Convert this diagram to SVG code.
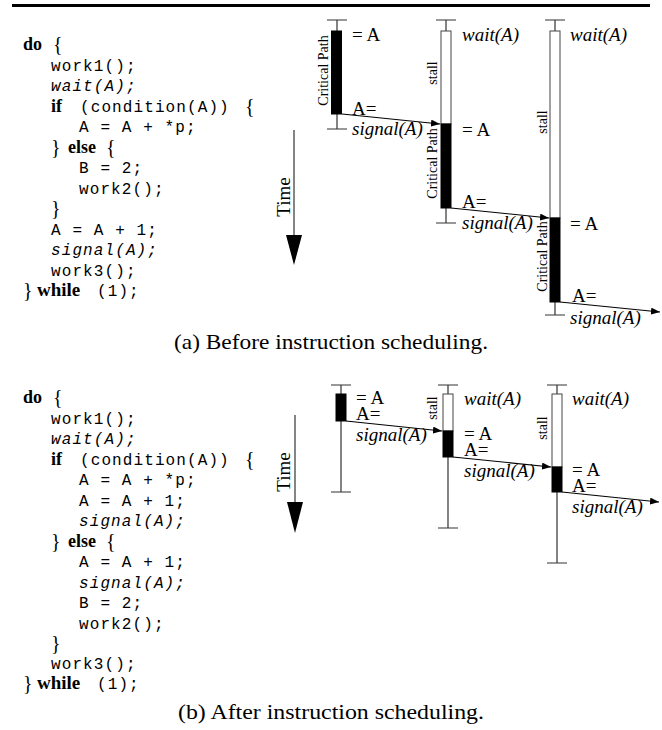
<svg xmlns="http://www.w3.org/2000/svg" width="662" height="730" viewBox="0 0 662 730">
<defs>
<style>
.mono{font-family:"Liberation Mono",monospace;font-size:16px;letter-spacing:1.1px;fill:#000}
.it{font-style:italic}
.kw{font-family:"Liberation Serif",serif;font-weight:bold;font-size:18px}
.kw2{font-family:"Liberation Serif",serif;font-weight:bold;font-size:19px}
.br{font-family:"Liberation Serif",serif;font-size:20px}
.lbl{font-family:"Liberation Serif",serif;font-size:19px}
.rot{font-family:"Liberation Serif",serif;font-size:14px;text-anchor:middle}
.time{font-family:"Liberation Serif",serif;font-size:19px;text-anchor:middle}
.cap{font-family:"Liberation Serif",serif;font-size:21px;text-anchor:middle}
.wh{stroke:#333;stroke-width:1.2;fill:none}
.barW{fill:#fff;stroke:#444;stroke-width:1}
.barB{fill:#000;stroke:#000;stroke-width:1}
.conn{stroke:#000;stroke-width:1.1;fill:none;marker-end:url(#ah)}
</style>
<marker id="ah" markerUnits="userSpaceOnUse" markerWidth="9" markerHeight="7" refX="9" refY="3.5" orient="auto">
<path d="M0,0 L9,3.5 L0,7 z" fill="#000"/>
</marker>
</defs>
<rect width="662" height="730" fill="#fff"/>
<line x1="12" y1="5.5" x2="650" y2="5.5" stroke="#000" stroke-width="3"/>

<!-- Code (a) -->
<g id="code-a">
<text class="kw" x="23" y="50">do</text><text class="br" x="53" y="51">{</text>
<text class="mono" x="51" y="71">work1();</text>
<text class="mono it" x="51" y="91">wait(A);</text>
<text class="kw" x="51" y="112">if</text><text class="mono" x="80" y="112">(condition(A))</text><text class="br" x="245" y="113">{</text>
<text class="mono" x="79" y="132">A = A + *p;</text>
<text class="br" x="51" y="154">}</text><text class="kw" x="68" y="153">else</text><text class="br" x="106" y="154">{</text>
<text class="mono" x="79" y="173">B = 2;</text>
<text class="mono" x="79" y="194">work2();</text>
<text class="br" x="51" y="215">}</text>
<text class="mono" x="51" y="235">A = A + 1;</text>
<text class="mono it" x="51" y="255">signal(A);</text>
<text class="mono" x="51" y="276">work3();</text>
<text class="br" x="23" y="297">}</text><text class="kw2" x="37" y="296">while</text><text class="mono" x="97" y="296">(1);</text>
</g>

<!-- Time arrow (a) -->
<g id="time-a">
<line x1="294" y1="130" x2="294" y2="240" class="wh"/>
<path d="M286,235 L302,235 L294,265 z" fill="#000"/>
<text class="time" transform="translate(290,197) rotate(-90)">Time</text>
</g>

<!-- Diagram (a) -->
<g id="a-thread1">
<path class="wh" d="M327,20 H347 M337,20 V129 M327,129 H347"/>
<rect class="barB" x="331.5" y="31" width="10" height="83"/>
<text class="rot" transform="translate(328,70.5) rotate(-90)">Critical Path</text>
<text class="lbl" x="352" y="41">= A</text>
<text class="lbl" x="352" y="115">A=</text>
<text class="lbl it" x="352" y="135">signal(A)</text>
</g>
<g id="a-thread2">
<path class="wh" d="M436,20 H456 M446,20 V223 M436,223 H456"/>
<rect class="barW" x="441" y="31" width="10" height="93"/>
<rect class="barB" x="441" y="124" width="10" height="84"/>
<text class="rot" transform="translate(437,73) rotate(-90)">stall</text>
<text class="rot" transform="translate(437,163.5) rotate(-90)">Critical Path</text>
<text class="lbl it" x="462" y="41">wait(A)</text>
<text class="lbl" x="462" y="136">= A</text>
<text class="lbl" x="462" y="208">A=</text>
<text class="lbl it" x="462" y="229">signal(A)</text>
</g>
<g id="a-thread3">
<path class="wh" d="M545,20 H565 M555,20 V315 M545,315 H565"/>
<rect class="barW" x="550" y="31" width="10" height="187"/>
<rect class="barB" x="550" y="218" width="10" height="84"/>
<text class="rot" transform="translate(547,122) rotate(-90)">stall</text>
<text class="rot" transform="translate(547,256.5) rotate(-90)">Critical Path</text>
<text class="lbl it" x="570" y="41">wait(A)</text>
<text class="lbl" x="570" y="230">= A</text>
<text class="lbl" x="572" y="302">A=</text>
<text class="lbl it" x="570" y="324">signal(A)</text>
</g>

<text class="cap" x="331" y="349" textLength="314" lengthAdjust="spacingAndGlyphs">(a) Before instruction scheduling.</text>

<!-- Code (b) -->
<g id="code-b">
<text class="kw" x="23" y="403">do</text><text class="br" x="53" y="404">{</text>
<text class="mono" x="51" y="424">work1();</text>
<text class="mono it" x="51" y="444">wait(A);</text>
<text class="kw" x="51" y="465">if</text><text class="mono" x="80" y="465">(condition(A))</text><text class="br" x="245" y="466">{</text>
<text class="mono" x="79" y="485">A = A + *p;</text>
<text class="mono" x="79" y="506">A = A + 1;</text>
<text class="mono it" x="79" y="526">signal(A);</text>
<text class="br" x="51" y="548">}</text><text class="kw" x="68" y="547">else</text><text class="br" x="106" y="548">{</text>
<text class="mono" x="79" y="567">A = A + 1;</text>
<text class="mono it" x="79" y="588">signal(A);</text>
<text class="mono" x="79" y="608">B = 2;</text>
<text class="mono" x="79" y="629">work2();</text>
<text class="br" x="51" y="650">}</text>
<text class="mono" x="51" y="669">work3();</text>
<text class="br" x="23" y="690">}</text><text class="kw2" x="37" y="689">while</text><text class="mono" x="97" y="689">(1);</text>
</g>

<!-- Time arrow (b) -->
<g id="time-b">
<line x1="295" y1="415" x2="295" y2="507" class="wh"/>
<path d="M287,502 L303,502 L295,533 z" fill="#000"/>
<text class="time" transform="translate(290,472) rotate(-90)">Time</text>
</g>

<!-- Diagram (b) -->
<g id="b-thread1">
<path class="wh" d="M331,385 H351 M341,385 V492 M331,492 H351"/>
<rect class="barB" x="336" y="394" width="10" height="27"/>
<text class="lbl" x="356" y="404">= A</text>
<text class="lbl" x="356" y="420">A=</text>
<text class="lbl it" x="356" y="441">signal(A)</text>
</g>
<g id="b-thread2">
<path class="wh" d="M438,385 H458 M448,385 V528 M438,528 H458"/>
<rect class="barW" x="443" y="394" width="10" height="37"/>
<rect class="barB" x="443" y="431" width="10" height="26"/>
<text class="rot" transform="translate(437,408) rotate(-90)">stall</text>
<text class="lbl it" x="464" y="405">wait(A)</text>
<text class="lbl" x="464" y="440">= A</text>
<text class="lbl" x="464" y="456">A=</text>
<text class="lbl it" x="464" y="477">signal(A)</text>
</g>
<g id="b-thread3">
<path class="wh" d="M547,385 H567 M557,385 V563 M547,563 H567"/>
<rect class="barW" x="552" y="394" width="10" height="73"/>
<rect class="barB" x="552" y="467" width="10" height="25"/>
<text class="rot" transform="translate(547,428) rotate(-90)">stall</text>
<text class="lbl it" x="572" y="405">wait(A)</text>
<text class="lbl" x="572" y="476">= A</text>
<text class="lbl" x="572" y="492">A=</text>
<text class="lbl it" x="572" y="513">signal(A)</text>
</g>

<text class="cap" x="331" y="719" textLength="306" lengthAdjust="spacingAndGlyphs">(b) After instruction scheduling.</text>

<g id="connectors">
<line class="conn" x1="342" y1="114" x2="440" y2="124"/>
<line class="conn" x1="451" y1="208" x2="549" y2="218"/>
<line class="conn" x1="560" y1="302" x2="660" y2="312"/>
<line class="conn" x1="346" y1="421" x2="442" y2="431"/>
<line class="conn" x1="453" y1="457" x2="551" y2="467"/>
<line class="conn" x1="562" y1="492" x2="659" y2="502"/>
</g>
</svg>
